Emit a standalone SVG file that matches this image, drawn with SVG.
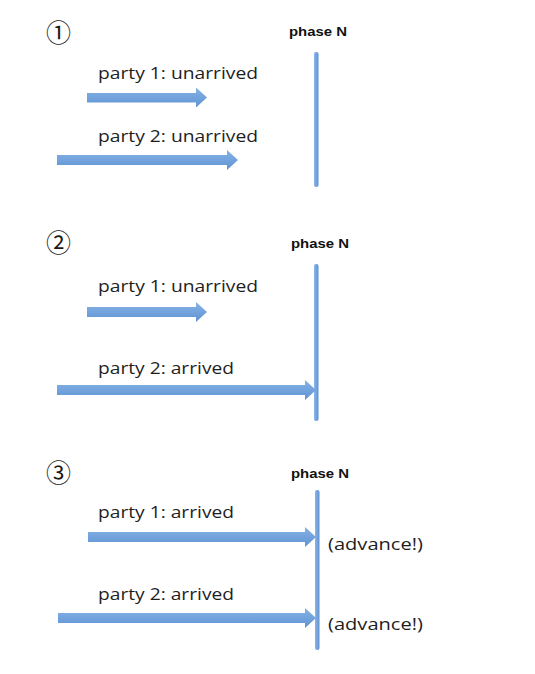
<svg xmlns="http://www.w3.org/2000/svg" width="535" height="674" viewBox="0 0 535 674">
<defs>
<linearGradient id="ag" x1="0" y1="0" x2="0" y2="1">
<stop offset="0" stop-color="#86b3e6"/>
<stop offset="1" stop-color="#5f93d3"/>
</linearGradient>
<linearGradient id="bg" x1="0" y1="0" x2="1" y2="0">
<stop offset="0" stop-color="#8ab6e8"/>
<stop offset="1" stop-color="#5e92d2"/>
</linearGradient>
</defs>
<style>
.num{font-family:"Noto Sans CJK JP","DejaVu Sans",sans-serif;font-size:25px;fill:#1a1a1a}
.ph{font-family:"Liberation Sans",Arial,sans-serif;font-weight:bold;font-size:13.5px;fill:#111}
.lbl{font-family:"Open Sans","Liberation Sans",sans-serif;font-size:16.5px;fill:#1e1e1e}
.bar{fill:url(#bg)}
.arr{fill:url(#ag)}
</style>
<rect width="535" height="674" fill="#fff"/>

<g id="panel1">
<text class="num" x="46" y="42">①</text>
<g id="phase1"><text class="ph" x="289" y="36" textLength="58" lengthAdjust="spacingAndGlyphs">phase N</text>
<rect class="bar" x="314" y="52" width="4.5" height="135" rx="2"/></g>
<text id="p1u" class="lbl" x="98" y="79" textLength="160" lengthAdjust="spacingAndGlyphs">party 1: unarrived</text>
<text id="p2u" class="lbl" x="98" y="142" textLength="160" lengthAdjust="spacingAndGlyphs">party 2: unarrived</text>
</g>

<g id="panel2">
<text class="num" x="46" y="252">②</text>
<g id="phase2"><text class="ph" x="291" y="248" textLength="58" lengthAdjust="spacingAndGlyphs">phase N</text>
<rect class="bar" x="314" y="264" width="4.5" height="157" rx="2"/></g>
<text id="p1u2" class="lbl" x="98" y="292" textLength="160" lengthAdjust="spacingAndGlyphs">party 1: unarrived</text>
<text id="p2a2" class="lbl" x="98" y="374" textLength="136" lengthAdjust="spacingAndGlyphs">party 2: arrived</text>
</g>

<g id="panel3">
<text class="num" x="46" y="482">③</text>
<g id="phase3"><text class="ph" x="291" y="478" textLength="58" lengthAdjust="spacingAndGlyphs">phase N</text>
<rect class="bar" x="315" y="490" width="4.5" height="160" rx="2"/></g>
<text id="p1a3" class="lbl" x="98" y="518" textLength="136" lengthAdjust="spacingAndGlyphs">party 1: arrived</text>
<text id="p2a3" class="lbl" x="98" y="600" textLength="136" lengthAdjust="spacingAndGlyphs">party 2: arrived</text>
<text id="adv1" class="lbl" x="328" y="550" textLength="95" lengthAdjust="spacingAndGlyphs">(advance!)</text>
<text id="adv2" class="lbl" x="328" y="630" textLength="95" lengthAdjust="spacingAndGlyphs">(advance!)</text>
</g>

<g id="connectors">
<polygon class="arr" points="87,93 196,93 196,87.5 207,97.5 196,107.5 196,102.5 87,102.5"/>
<polygon class="arr" points="57,155 227,155 227,150 238,160 227,170 227,165 57,165"/>
<polygon class="arr" points="87,307 196,307 196,302 207,312 196,322 196,317 87,317"/>
<polygon class="arr" points="57,385 305,385 305,380 316,390 305,400 305,395 57,395"/>
<polygon class="arr" points="88,532 305,532 305,527 316,537 305,547 305,542 88,542"/>
<polygon class="arr" points="58,613 305,613 305,608 316,618 305,628 305,623 58,623"/>
</g>
</svg>
